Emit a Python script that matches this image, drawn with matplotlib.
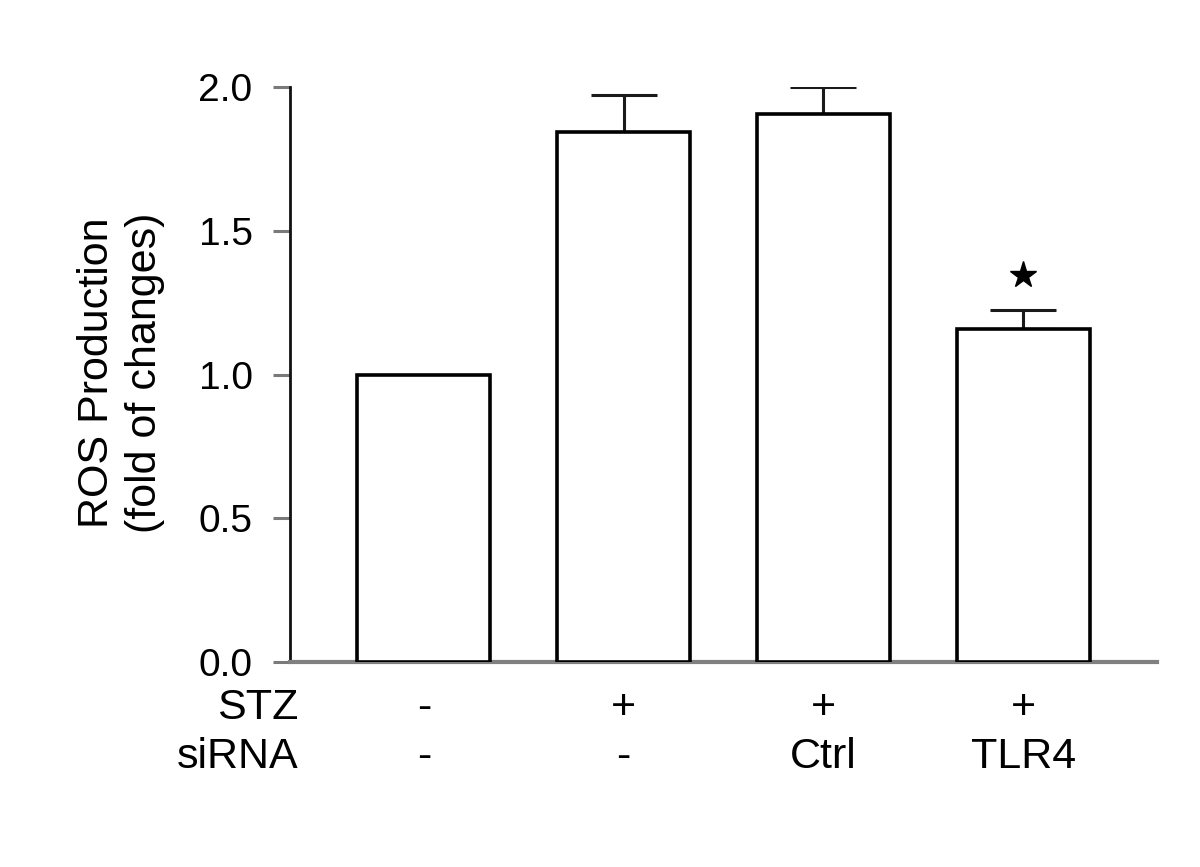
import numpy as np
from matplotlib import pyplot as plt

# data
stz = ['-', '+', '+', '+']
sirna = ['-', '-', 'Ctrl', 'TLR4']
ros = [1.0, 1.845, 1.905, 1.16]
ros_err = [0.0, 0.127, 0.094, 0.066]
signif = [False, False, False, True]
yticks = [0.0, 0.5, 1.0, 1.5, 2.0]

plt.rcParams['font.family'] = ['Liberation Sans', 'DejaVu Sans']

fig = plt.figure(figsize=(12, 8.67), dpi=100)
ax = fig.add_axes([0.2417, 0.2364, 0.7225, 0.6632])

x = np.arange(len(ros))
ax.bar(x, ros, width=0.665, color='white', edgecolor='black', linewidth=2.6, zorder=3)
ax.errorbar(x[1:], ros[1:], yerr=[np.zeros(len(ros) - 1), ros_err[1:]],
            fmt='none', ecolor='#1a1a1a', elinewidth=2.2, capsize=24, capthick=2.2, zorder=2)

for i in range(len(ros)):
    if signif[i]:
        ax.plot(x[i], ros[i] + ros_err[i] + 0.12, marker='*', color='black',
                markersize=20, linestyle='none')

ax.set_xlim(-0.67, 3.67)
ax.set_ylim(0, 2.0)
ax.set_yticks(yticks)
ax.set_yticklabels(['%.1f' % t for t in yticks], fontsize=28)
ax.tick_params(axis='y', direction='out', length=12, width=2.2, color='#7a7a7a', pad=15)
ax.set_xticks([])

ax.spines['top'].set_visible(False)
ax.spines['right'].set_visible(False)
ax.spines['left'].set_color('#111111')
ax.spines['left'].set_linewidth(2.0)
ax.spines['bottom'].set_color('#808080')
ax.spines['bottom'].set_linewidth(3.0)

trans = ax.get_xaxis_transform()
ax.text(-0.63, -0.08, 'STZ', transform=trans, ha='right', va='center', fontsize=31)
ax.text(-0.63, -0.165, 'siRNA', transform=trans, ha='right', va='center', fontsize=31)
for i in range(len(ros)):
    ax.text(x[i], -0.08, stz[i], transform=trans, ha='center', va='center', fontsize=31)
    ax.text(x[i], -0.165, sirna[i], transform=trans, ha='center', va='center', fontsize=31)

fig.text(0.101, 0.570, 'ROS Production\n(fold of changes)', rotation=90,
         ha='center', va='center', multialignment='center', fontsize=31, linespacing=1.25)

fig.savefig('out.png', dpi=100, facecolor='white')
